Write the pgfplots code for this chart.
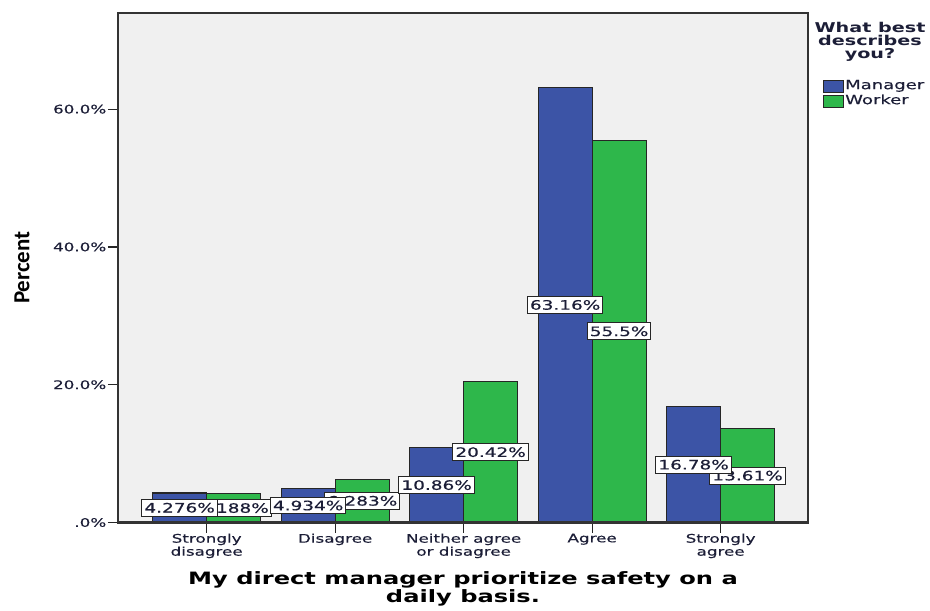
\documentclass[border=0pt]{standalone}
\usepackage{fontspec}
\setmainfont{DejaVu Sans}[FakeStretch=1.42, UprightFeatures={FakeBold=0.4}]
\newfontfamily\pfont{Carlito}
\usepackage{pgfplots}
\pgfplotsset{compat=1.18}
\definecolor{mblue}{RGB}{60,84,166}
\definecolor{wgreen}{RGB}{46,183,75}
\definecolor{bg}{RGB}{240,240,240}
\definecolor{txt}{RGB}{28,30,55}
\pgfplotsset{
  lgimg/.style={legend image code/.code={\draw[#1, line width=1bp, draw=black!85] (0bp,-6bp) rectangle (20bp,6bp);}},
  lbl/.style={forget plot, draw=none, mark=none, nodes near coords, point meta=explicit symbolic,
    every node near coord/.append style={anchor=center, fill=white, draw=black!85, line width=1bp,
      inner xsep=2.5bp, inner ysep=3.5bp, text=txt, font=\fontsize{13bp}{13bp}\selectfont}}
}
\begin{document}
\begin{tikzpicture}
\begin{axis}[
  name=ax,
  scale only axis, width=690bp, height=509.8bp,
  xmin=-0.69, xmax=4.68, ymin=0, ymax=74,
  clip=false,
  axis background/.style={fill=bg},
  axis line style={draw=black!85, line width=1.5bp},
  xtick={0,1,2,3,4},
  xticklabels={{Strongly\\disagree},Disagree,{Neither agree\\or disagree},Agree,{Strongly\\agree}},
  ytick={0,20,40,60},
  yticklabels={.0\%,20.0\%,40.0\%,60.0\%},
  tick pos=left, tick align=outside,
  major tick length=10bp,
  tick style={black!85, line width=1.2bp},
  xticklabel style={align=center, font=\fontsize{11.8bp}{13bp}\selectfont, text=txt, inner sep=1bp},
  yticklabel style={font=\fontsize{11.8bp}{13bp}\selectfont, text=txt, inner sep=1.5bp},
  xlabel={My direct manager prioritize safety on a\\daily basis.},
  xlabel style={at={(axis description cs:0.5,-0.1304)}, anchor=center, align=center,
    font=\bfseries\fontsize{17bp}{18bp}\selectfont, text=black},
  ylabel={Percent},
  ylabel style={at={(axis description cs:-0.1391,0.5)}, anchor=center,
    font=\pfont\bfseries\fontsize{23bp}{23bp}\selectfont, text=black},
  legend style={at={(axis description cs:1.0217,0.8710)}, anchor=north west, draw=none, fill=none,
    inner sep=0pt, row sep=0pt, font=\fontsize{12.7bp}{13bp}\selectfont, text=txt,
    nodes={inner xsep=1bp, inner ysep=1.5bp, text height=9bp, text depth=3bp}},
  legend cell align=left,
]
\addplot[ybar, bar width=0.42, bar shift=-0.21, fill=mblue, draw=black!85, line width=1.2bp, lgimg]
  coordinates {(0,4.276) (1,4.934) (2,10.86) (3,63.16) (4,16.78)};
\addlegendentry{Manager}
\addplot[ybar, bar width=0.42, bar shift=0.21, fill=wgreen, draw=black!85, line width=1.2bp, lgimg]
  coordinates {(0,4.188) (1,6.283) (2,20.42) (3,55.5) (4,13.61)};
\addlegendentry{Worker}
% worker labels (drawn first, manager labels overlap them)
\addplot[lbl] coordinates {(0.21,2.094) [4.188\%] (1.21,3.142) [6.283\%] (2.21,10.21) [20.42\%] (3.21,27.75) [55.5\%] (4.21,6.805) [13.61\%]};
\addplot[lbl] coordinates {(-0.21,2.138) [4.276\%] (0.79,2.467) [4.934\%] (1.79,5.43) [10.86\%] (2.79,31.58) [63.16\%] (3.79,8.39) [16.78\%]};
\end{axis}
\draw[black!80, line width=2bp] (ax.south west) rectangle (ax.north east);
\path (ax.north east) ++(62bp,-29.5bp) node[font=\bfseries\fontsize{13.5bp}{13bp}\selectfont, align=center, text=txt] {What best\\describes\\you?};
\pgfresetboundingbox
\path[use as bounding box] (ax.south west) ++(-118bp,-88.5bp) rectangle ++(930bp,611bp);
\end{tikzpicture}
\end{document}
